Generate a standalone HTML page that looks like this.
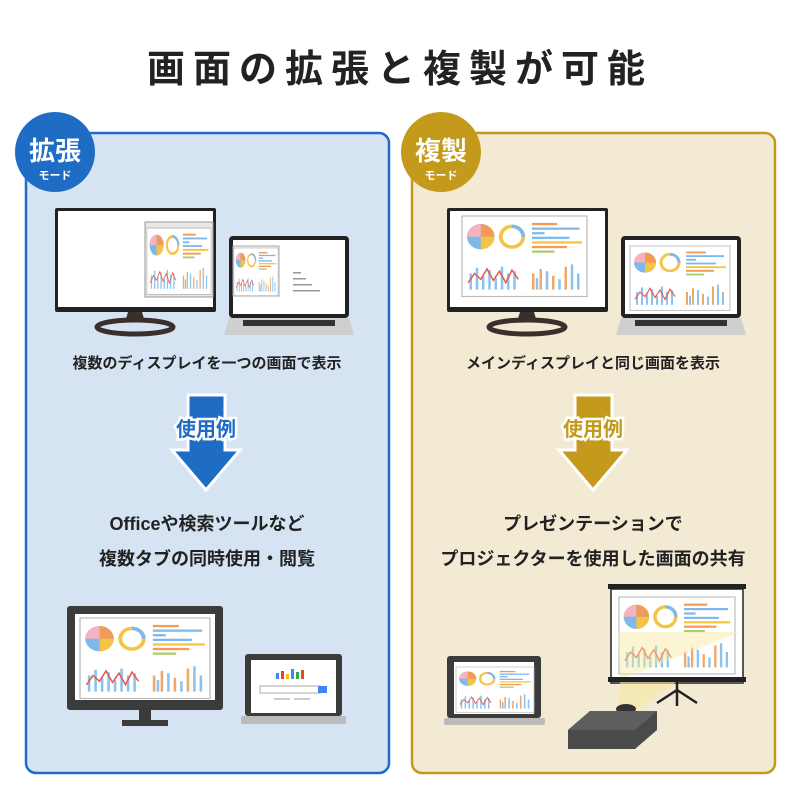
<!DOCTYPE html>
<html><head><meta charset="utf-8"><style>
body{margin:0;width:800px;height:800px;background:#fff;overflow:hidden;font-family:"Liberation Sans","Noto Sans CJK JP",sans-serif}
svg text{font-family:"Liberation Sans","Noto Sans CJK JP",sans-serif;font-weight:bold}
</style></head><body>
<svg width="800" height="800" viewBox="0 0 800 800" xmlns="http://www.w3.org/2000/svg">
<defs>
<g id="chart">
 <rect x="0" y="0" width="100" height="70" fill="#fff" stroke="#bbb" stroke-width="1"/>
 <circle cx="15" cy="18" r="11" fill="#7fb8ea"/>
 <path d="M15 18 L15 7 A11 11 0 0 1 26 18Z" fill="#f39a55"/>
 <path d="M15 18 L26 18 A11 11 0 0 1 15 29Z" fill="#f6c444"/>
 <path d="M15 18 L4 18 A11 11 0 0 1 15 7Z" fill="#f4b3bf"/>
 <circle cx="40" cy="18" r="9" fill="none" stroke="#f6c444" stroke-width="3"/>
 <path d="M40 9 A9 9 0 0 1 49 18" fill="none" stroke="#7fb8ea" stroke-width="3"/>
 <rect x="56" y="6" width="20" height="2" fill="#f39a55"/><rect x="56" y="10" width="38" height="2" fill="#7fb8ea"/>
 <rect x="56" y="14" width="10" height="2" fill="#7fb8ea"/><rect x="56" y="18" width="30" height="2" fill="#7fb8ea"/>
 <rect x="56" y="22" width="40" height="2" fill="#f6c444"/><rect x="56" y="26" width="28" height="2" fill="#f39a55"/>
 <rect x="56" y="30" width="18" height="2" fill="#aacd6e"/>
 <g fill="#8cc3ee"><rect x="6" y="50" width="2" height="14"/><rect x="11" y="45" width="2" height="19"/><rect x="16" y="52" width="2" height="12"/><rect x="21" y="47" width="2" height="17"/><rect x="26" y="54" width="2" height="10"/><rect x="31" y="44" width="2" height="20"/><rect x="36" y="50" width="2" height="14"/><rect x="41" y="48" width="2" height="16"/></g>
 <polyline points="5,58 10,50 15,55 20,46 25,56 30,48 35,58 40,47 45,55" fill="none" stroke="#e8574a" stroke-width="1.2"/>
 <g fill="#f0a868"><rect x="56" y="50" width="2" height="14"/><rect x="62" y="46" width="2" height="18"/><rect x="72" y="52" width="2" height="12"/><rect x="82" y="44" width="2" height="20"/></g>
 <g fill="#8cc3ee"><rect x="59" y="54" width="2" height="10"/><rect x="67" y="48" width="2" height="16"/><rect x="77" y="55" width="2" height="9"/><rect x="87" y="42" width="2" height="22"/><rect x="92" y="50" width="2" height="14"/></g>
</g>
</defs>

<text x="400" y="82" font-size="38" text-anchor="middle" fill="#222" letter-spacing="8">画面の拡張と複製が可能</text>

<!-- left panel -->
<rect x="26" y="133" width="363" height="640" rx="10" fill="#d5e3f3" stroke="#1f6cc4" stroke-width="2.5"/>
<circle cx="55" cy="152" r="40" fill="#1f6cc4"/>
<text x="55" y="160" font-size="26" text-anchor="middle" fill="#fff">拡張</text>
<text x="55" y="179" font-size="11" text-anchor="middle" fill="#fff">モード</text>

<!-- left monitor -->
<rect x="55" y="208" width="161" height="104" fill="#222" rx="2"/>
<rect x="58" y="211" width="155" height="96" fill="#fff"/>
<rect x="145" y="222" width="68" height="75" fill="#e8e8e8" stroke="#999"/>
<g transform="translate(147,228) scale(0.64,0.95)"><use href="#chart"/></g>
<path d="M128 312 L142 312 L145 322 L125 322Z" fill="#3a2f2c"/>
<ellipse cx="135" cy="327" rx="38" ry="7" fill="none" stroke="#3a2f2c" stroke-width="5"/>
<!-- left laptop -->
<rect x="229" y="236" width="120" height="82" rx="4" fill="#222"/>
<rect x="233" y="240" width="112" height="74" fill="#fff"/>
<rect x="233" y="246" width="46" height="50" fill="#f2f2f2" stroke="#aaa"/>
<g transform="translate(234,248) scale(0.44,0.68)"><use href="#chart"/></g>
<g fill="#999"><rect x="293" y="272" width="8" height="1.5"/><rect x="293" y="278" width="13" height="1.5"/><rect x="293" y="284" width="19" height="1.5"/><rect x="293" y="290" width="27" height="1.5"/></g>
<path d="M229 318 L349 318 L354 335 L224 335Z" fill="#cfcfcf"/>
<rect x="243" y="320" width="92" height="6" fill="#333"/>

<text x="207" y="368" font-size="15" text-anchor="middle" fill="#222">複数のディスプレイを一つの画面で表示</text>

<!-- left arrow -->
<path d="M188 395 L225 395 L225 450 L240 450 L206 490 L172 450 L188 450Z" fill="#1f6cc4" stroke="#fff" stroke-width="3"/>
<text x="206" y="436" font-size="20" text-anchor="middle" fill="#1f6cc4" stroke="#fff" stroke-width="5" paint-order="stroke">使用例</text>

<text x="207" y="530" font-size="18" text-anchor="middle" fill="#222">Officeや検索ツールなど</text>
<text x="207" y="565" font-size="18" text-anchor="middle" fill="#222">複数タブの同時使用・閲覧</text>

<!-- left bottom monitor -->
<rect x="67" y="606" width="156" height="104" rx="3" fill="#3b3b3b"/>
<rect x="75" y="614" width="140" height="86" fill="#fff"/>
<g transform="translate(80,618) scale(1.3,1.15)"><use href="#chart"/></g>
<rect x="139" y="710" width="12" height="14" fill="#3b3b3b"/>
<rect x="122" y="720" width="46" height="6" fill="#3b3b3b"/>
<!-- left bottom laptop -->
<rect x="245" y="654" width="97" height="62" rx="3" fill="#3b3b3b"/>
<rect x="251" y="660" width="85" height="53" fill="#fff"/>
<g><rect x="276" y="673" width="3" height="6" fill="#4285f4"/><rect x="281" y="671" width="3" height="8" fill="#ea4335"/><rect x="286" y="674" width="3" height="5" fill="#fbbc05"/><rect x="291" y="669" width="3" height="10" fill="#4285f4"/><rect x="296" y="672" width="3" height="7" fill="#34a853"/><rect x="301" y="670" width="3" height="9" fill="#ea4335"/></g>
<rect x="260" y="686" width="60" height="7" fill="#fff" stroke="#aaa"/><rect x="318" y="686" width="9" height="7" fill="#4285f4"/>
<rect x="274" y="698" width="16" height="2" fill="#ccc"/><rect x="294" y="698" width="16" height="2" fill="#ccc"/>
<rect x="241" y="716" width="105" height="8" rx="2" fill="#bbb"/>

<!-- right panel -->
<rect x="412" y="133" width="363" height="640" rx="10" fill="#f3ead4" stroke="#c49a1c" stroke-width="2.5"/>
<circle cx="441" cy="152" r="40" fill="#c49a1c"/>
<text x="441" y="160" font-size="26" text-anchor="middle" fill="#fff">複製</text>
<text x="441" y="179" font-size="11" text-anchor="middle" fill="#fff">モード</text>

<rect x="447" y="208" width="161" height="104" fill="#222" rx="2"/>
<rect x="450" y="211" width="155" height="96" fill="#fff"/>
<g transform="translate(462,216) scale(1.25,1.15)"><use href="#chart"/></g>
<path d="M520 312 L534 312 L537 322 L517 322Z" fill="#3a2f2c"/>
<ellipse cx="527" cy="327" rx="38" ry="7" fill="none" stroke="#3a2f2c" stroke-width="5"/>
<rect x="621" y="236" width="120" height="82" rx="4" fill="#222"/>
<rect x="625" y="240" width="112" height="74" fill="#fff"/>
<g transform="translate(630,246) scale(1.0,0.92)"><use href="#chart"/></g>
<path d="M621 318 L741 318 L746 335 L616 335Z" fill="#cfcfcf"/>
<rect x="635" y="320" width="92" height="6" fill="#333"/>

<text x="593" y="368" font-size="15" text-anchor="middle" fill="#222">メインディスプレイと同じ画面を表示</text>

<path d="M575 395 L612 395 L612 450 L627 450 L593 490 L559 450 L575 450Z" fill="#c49a1c" stroke="#fff" stroke-width="3"/>
<text x="593" y="436" font-size="20" text-anchor="middle" fill="#c49a1c" stroke="#fff" stroke-width="5" paint-order="stroke">使用例</text>

<text x="593" y="530" font-size="18" text-anchor="middle" fill="#222">プレゼンテーションで</text>
<text x="593" y="565" font-size="18" text-anchor="middle" fill="#222">プロジェクターを使用した画面の共有</text>

<!-- projector screen -->
<rect x="608" y="584" width="138" height="5" fill="#222"/>
<rect x="611" y="589" width="132" height="94" fill="#fff" stroke="#222" stroke-width="1.5"/>
<g transform="translate(619,597) scale(1.16,1.1)"><use href="#chart"/></g>
<path d="M618 632 L740 632 L620 680 Z" fill="#f6e9a0" opacity="0.45"/>
<rect x="608" y="677" width="138" height="5" fill="#222"/>
<path d="M677 682 L677 706 M677 690 L657 703 M677 690 L697 703" stroke="#222" stroke-width="2.5" fill="none"/>
<path d="M620 682 L676 682 L635 712 L617 712Z" fill="#f6e9a0" opacity="0.6"/>
<!-- projector -->
<ellipse cx="626" cy="709" rx="10" ry="5" fill="#333"/>
<path d="M568 749 L568 730 L590 711 L657 711 L657 730 L635 749Z" fill="#4a4a4a"/>
<path d="M568 730 L590 711 L657 711 L635 730Z" fill="#5e5e5e"/>
<!-- laptop -->
<rect x="447" y="656" width="94" height="62" rx="3" fill="#3b3b3b"/>
<rect x="454" y="662" width="80" height="52" fill="#fff"/>
<g transform="translate(456,667) scale(0.78,0.65)"><use href="#chart"/></g>
<rect x="444" y="718" width="101" height="7" rx="2" fill="#bbb"/>
</svg>
</body></html>
